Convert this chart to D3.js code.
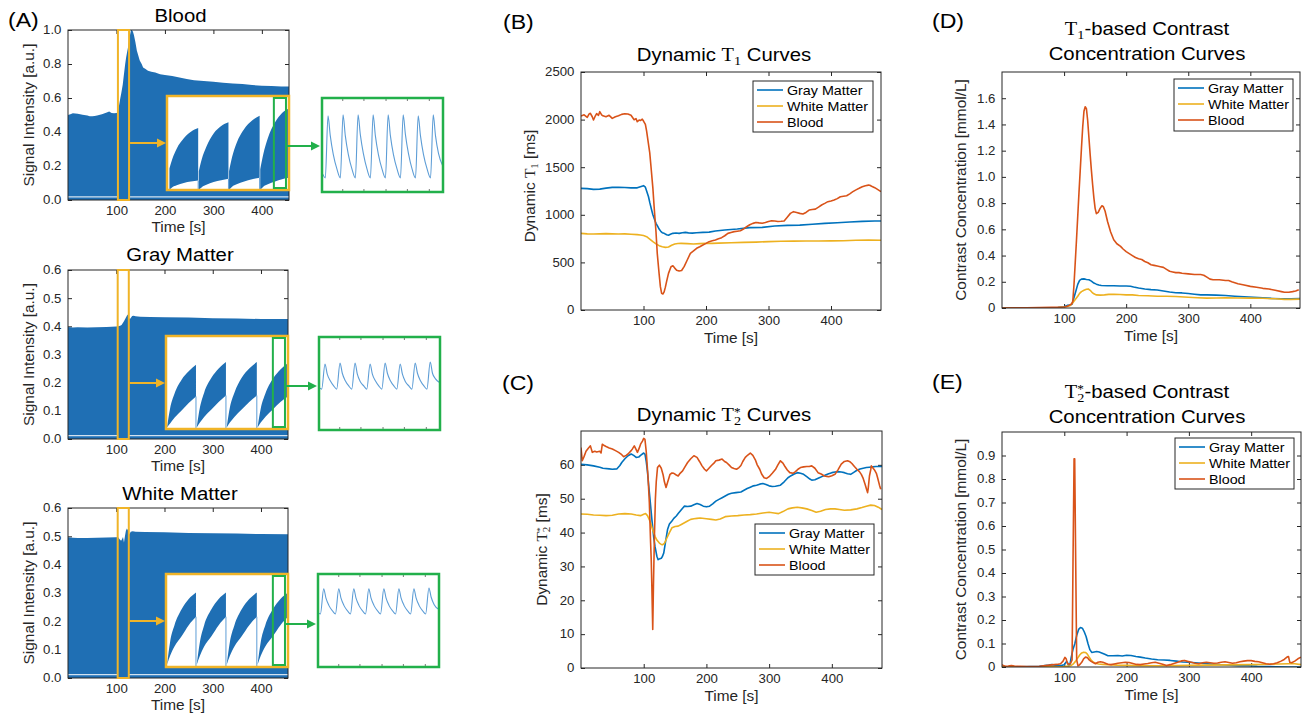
<!DOCTYPE html>
<html>
<head>
<meta charset="utf-8">
<script src="https://cdn.jsdelivr.net/npm/d3@7"></script>
<style>
html, body { margin: 0; padding: 0; background: #fff; }
svg { display: block; }
text { font-weight: 400; }
</style>
</head>
<body>
<svg id="fig" width="1306" height="716"></svg>
<script>
// ---------------- data ----------------
const timeTicks = [100, 200, 300, 400];
const rawTimeDomain = [0, 456];
const mapTimeDomain = [0, 480];
const zoomWindow = [103, 126];          // seconds shown in the first magnified view
const detailWindow = [3.53, 3.93];      // part of the magnified view shown again

const sigBloodTicks = [0, 0.2, 0.4, 0.6, 0.8, 1.0];
const sigTissueTicks = [0, 0.1, 0.2, 0.3, 0.4, 0.5, 0.6];
const t1Ticks = [0, 500, 1000, 1500, 2000, 2500];
const t2Ticks = [0, 10, 20, 30, 40, 50, 60];
const concT1Ticks = [0, 0.2, 0.4, 0.6, 0.8, 1.0, 1.2, 1.4, 1.6];
const concT2Ticks = [0, 0.1, 0.2, 0.3, 0.4, 0.5, 0.6, 0.7, 0.8, 0.9];

const seriesNames = ["Gray Matter", "White Matter", "Blood"];

// upper envelope of the raw signal [time, a.u.]
const bloodEnvelope = [[0,0.5],[5,0.505],[10,0.51],[20,0.508],[30,0.502],[40,0.497],[45,0.493],[50,0.492],[55,0.494],[60,0.497],[70,0.505],[80,0.515],[85,0.52],[90,0.512],[95,0.51],[100,0.512],[103,0.515],[105,0.55],[108,0.6],[110,0.63],[113,0.68],[115,0.73],[118,0.8],[120,0.84],[122,0.87],[124,0.9],[126,0.94],[128,0.97],[130,1.0],[132,1.0],[134,0.99],[136,0.97],[139,0.93],[142,0.88],[145,0.85],[148,0.82],[152,0.8],[155,0.78],[160,0.77],[165,0.76],[172,0.755],[180,0.75],[190,0.74],[200,0.735],[215,0.73],[230,0.72],[245,0.712],[260,0.705],[280,0.7],[300,0.695],[320,0.69],[340,0.686],[360,0.682],[380,0.676],[400,0.672],[420,0.67],[440,0.668],[456,0.667]];
const grayEnvelope = [[0,0.398],[10,0.396],[20,0.397],[40,0.396],[60,0.397],[80,0.398],[100,0.399],[104,0.4],[108,0.402],[111,0.405],[113,0.41],[116,0.418],[119,0.428],[122,0.438],[124,0.442],[126,0.432],[128,0.425],[130,0.43],[133,0.437],[136,0.438],[140,0.436],[150,0.434],[170,0.433],[200,0.432],[250,0.431],[300,0.429],[350,0.428],[400,0.426],[456,0.426]];
const whiteEnvelope = [[0,0.497],[10,0.495],[20,0.494],[40,0.494],[60,0.495],[80,0.496],[100,0.497],[104,0.497],[107,0.49],[110,0.484],[112,0.49],[114,0.498],[116,0.478],[118,0.5],[120,0.52],[122,0.528],[124,0.522],[126,0.505],[128,0.51],[130,0.516],[134,0.518],[140,0.516],[160,0.515],[200,0.514],[250,0.512],[300,0.511],[350,0.51],[400,0.508],[456,0.507]];
const bloodFloor = 0.018, grayFloor = 0.012, whiteFloor = 0.012;

// magnified readout: segments of [x, lower, upper] in readout units
const bloodReadout = [
  [[0.08,0,0.23],[0.175,0.03,0.33],[0.32,0.05,0.44],[0.555,0.075,0.55],[0.79,0.09,0.62],[1.03,0.1,0.66]],
  [[1.05,0,0.2],[1.15,0.03,0.33],[1.3,0.055,0.46],[1.54,0.085,0.6],[1.79,0.105,0.68],[2.03,0.12,0.72]],
  [[2.05,0,0.2],[2.15,0.035,0.35],[2.3,0.06,0.5],[2.55,0.09,0.65],[2.81,0.115,0.74],[3.06,0.13,0.79]],
  [[3.08,0,0.22],[3.18,0.035,0.38],[3.33,0.06,0.55],[3.57,0.09,0.72],[3.8,0.115,0.82],[4.03,0.13,0.87]]
];
const grayReadout = [
  [[0.04,0.02,0.03],[0.135,0.06,0.22],[0.28,0.12,0.38],[0.515,0.2,0.53],[0.75,0.28,0.62],[0.99,0.35,0.69]],
  [[1.02,0.02,0.03],[1.12,0.07,0.23],[1.26,0.13,0.39],[1.5,0.21,0.55],[1.74,0.29,0.65],[1.98,0.36,0.72]],
  [[2.01,0.02,0.03],[2.11,0.07,0.23],[2.26,0.13,0.39],[2.5,0.21,0.55],[2.75,0.29,0.65],[3.0,0.36,0.72]],
  [[3.03,0.02,0.03],[3.13,0.07,0.22],[3.28,0.13,0.38],[3.53,0.21,0.54],[3.78,0.29,0.64],[4.03,0.35,0.71]]
];
const whiteReadout = [
  [[0.04,0.03,0.04],[0.135,0.12,0.27],[0.28,0.22,0.45],[0.515,0.33,0.62],[0.75,0.45,0.73],[0.99,0.54,0.8]],
  [[1.02,0.03,0.04],[1.12,0.12,0.27],[1.26,0.22,0.45],[1.5,0.33,0.62],[1.74,0.45,0.73],[1.98,0.54,0.8]],
  [[2.01,0.03,0.04],[2.11,0.12,0.27],[2.26,0.22,0.45],[2.5,0.33,0.62],[2.75,0.45,0.73],[3.0,0.54,0.8]],
  [[3.03,0.03,0.04],[3.13,0.12,0.27],[3.28,0.22,0.45],[3.53,0.33,0.62],[3.78,0.45,0.73],[4.03,0.54,0.8]]
];

// individual samples inside the detail window [cycle, level]
const bloodDetail = [[0.05,0.19],[0.22,0.15],[0.40,0.81],[0.55,0.6],[0.75,0.4],[1.0,0.24],[1.22,0.15],[1.40,0.82],[1.55,0.6],[1.75,0.4],[2.0,0.24],[2.22,0.15],[2.40,0.82],[2.55,0.61],[2.75,0.41],[3.0,0.24],[3.22,0.15],[3.40,0.82],[3.55,0.6],[3.75,0.4],[4.0,0.24],[4.22,0.15],[4.40,0.82],[4.55,0.6],[4.75,0.4],[5.0,0.24],[5.22,0.15],[5.40,0.82],[5.55,0.61],[5.75,0.41],[6.0,0.24],[6.22,0.15],[6.40,0.81],[6.55,0.6],[6.75,0.4],[7.0,0.24],[7.22,0.15],[7.40,0.82],[7.55,0.6],[7.75,0.41],[8.05,0.27]];
const grayDetail = [[0.05,0.45],[0.18,0.44],[0.40,0.71],[0.55,0.6],[0.75,0.53],[1.0,0.47],[1.18,0.44],[1.40,0.72],[1.55,0.61],[1.75,0.53],[2.0,0.47],[2.18,0.44],[2.40,0.72],[2.55,0.6],[2.75,0.52],[3.0,0.47],[3.18,0.44],[3.40,0.71],[3.55,0.6],[3.75,0.53],[4.0,0.47],[4.18,0.44],[4.40,0.72],[4.55,0.61],[4.75,0.53],[5.0,0.47],[5.18,0.44],[5.40,0.71],[5.55,0.6],[5.75,0.52],[6.0,0.47],[6.18,0.44],[6.40,0.72],[6.55,0.61],[6.75,0.53],[7.0,0.47],[7.18,0.44],[7.40,0.73],[7.55,0.61],[7.75,0.55],[8.02,0.51]];
const whiteDetail = [[0.05,0.58],[0.16,0.57],[0.38,0.84],[0.53,0.74],[0.73,0.66],[0.98,0.6],[1.16,0.57],[1.38,0.84],[1.53,0.74],[1.73,0.66],[1.98,0.6],[2.16,0.57],[2.38,0.84],[2.53,0.74],[2.73,0.66],[2.98,0.6],[3.16,0.57],[3.38,0.84],[3.53,0.74],[3.73,0.66],[3.98,0.6],[4.16,0.57],[4.38,0.84],[4.53,0.74],[4.73,0.66],[4.98,0.6],[5.16,0.57],[5.38,0.84],[5.53,0.74],[5.73,0.66],[5.98,0.6],[6.16,0.57],[6.38,0.84],[6.53,0.74],[6.73,0.66],[6.98,0.6],[7.16,0.57],[7.38,0.85],[7.53,0.75],[7.73,0.67],[8.03,0.62]];
const detailTicks = [1.38, 2.79, 4.26, 5.68, 7.14];

// dynamic T1 [ms]
const t1Gray = [[0,1278],[10,1275],[20,1267],[30,1270],[40,1280],[50,1288],[60,1290],[70,1287],[80,1283],[90,1283],[95,1295],[100,1306],[103,1290],[105,1250],[108,1190],[110,1130],[113,1050],[115,1000],[118,945],[120,910],[123,875],[125,850],[128,823],[130,812],[133,805],[137,790],[140,785],[143,795],[147,805],[152,808],[157,805],[162,812],[167,815],[172,810],[178,808],[185,812],[195,815],[205,818],[215,830],[230,840],[250,851],[270,865],[290,868],[310,882],[330,889],[350,892],[370,900],[390,910],[410,917],[430,924],[450,931],[470,935],[480,935]];
const t1White = [[0,805],[10,800],[20,798],[30,800],[40,802],[50,800],[60,798],[70,800],[80,796],[90,792],[95,788],[100,782],[105,770],[110,745],[115,718],[120,695],[125,676],[130,665],[135,658],[140,662],[145,680],[150,693],[155,698],[160,700],[170,697],[180,694],[190,697],[200,700],[210,700],[220,702],[240,707],[260,710],[280,713],[300,718],[320,722],[340,723],[360,725],[380,724],[400,726],[420,728],[440,732],[460,735],[480,733]];
const t1Blood = [[0,2038],[5,2050],[10,2024],[13,2060],[15,2066],[18,2030],[20,1996],[23,2040],[25,2062],[28,2045],[30,2083],[33,2050],[35,2040],[40,2030],[45,2045],[50,2013],[55,2030],[60,2040],[65,2055],[70,2062],[75,2058],[80,2045],[85,1998],[88,2010],[90,1978],[93,1995],[95,1990],[98,2005],[100,1985],[103,1950],[105,1880],[107,1786],[110,1650],[112,1505],[115,1280],[117,1085],[120,820],[122,595],[125,380],[127,245],[129,175],[131,168],[133,190],[135,240],[137,300],[140,385],[144,455],[147,465],[150,440],[153,418],[157,410],[161,415],[165,455],[170,525],[175,595],[180,620],[185,648],[190,665],[195,683],[200,700],[205,718],[210,728],[215,735],[220,748],[225,760],[230,780],[235,805],[240,815],[245,823],[250,828],[255,833],[260,850],[265,875],[270,895],[275,910],[280,920],[285,915],[290,912],[295,920],[300,930],[305,938],[310,935],[315,930],[320,932],[325,935],[330,975],[335,1015],[340,1033],[345,1025],[350,1015],[355,1008],[360,1025],[365,1050],[370,1055],[375,1060],[380,1080],[385,1103],[390,1120],[395,1138],[400,1145],[405,1155],[410,1170],[415,1190],[420,1195],[425,1200],[430,1220],[435,1243],[440,1262],[445,1278],[450,1295],[455,1306],[460,1312],[462,1310],[465,1300],[470,1285],[475,1265],[480,1243]];

// dynamic T2* [ms]
const t2Gray = [[0,60.2],[10,60],[20,59.7],[30,59.3],[35,59],[45,58.8],[50,58.7],[57,58.8],[62,59.8],[65,60.7],[70,61.8],[75,62.7],[80,63.2],[84,62.8],[88,62.2],[92,62.3],[95,62.8],[100,63.5],[102,63.2],[104,61],[106,58],[108,53.8],[110,50],[113,43.9],[116,38.5],[118,35.9],[121,33],[123,32],[126,32.3],[128,32.4],[130,33],[132,34],[135,37.5],[138,40.9],[141,42.5],[145,43.4],[148,44.2],[152,44.9],[155,45.6],[158,46.3],[162,47.2],[165,47.8],[170,47.7],[175,47.8],[180,48.2],[185,48.6],[190,48.3],[195,47.8],[200,47.6],[205,47.8],[210,48.5],[215,49.3],[220,49.8],[225,50.3],[230,50.8],[235,51.3],[240,51.6],[247,51.8],[255,52],[260,52.5],[265,53],[270,53.4],[275,53.8],[280,54],[285,54.3],[290,54.5],[295,54.2],[300,53.8],[305,53.6],[310,53.7],[318,54],[324,55],[330,56.2],[335,56.8],[340,57.3],[345,57.7],[350,57.5],[355,57.2],[360,56.5],[365,55.8],[368,55.5],[373,55.6],[380,56.2],[385,56.6],[390,57],[395,57.4],[400,57.7],[405,57.9],[410,58],[415,57.9],[420,57.7],[425,57.4],[430,57.2],[435,57.8],[440,58.4],[445,58.8],[450,59],[455,59.2],[460,59.3],[465,59.4],[470,59.5],[475,59.5],[480,59.5]];
const t2White = [[0,45.5],[10,45.4],[20,45.2],[30,45.1],[40,45],[50,45.1],[60,45.5],[70,45.6],[80,45.5],[88,45.2],[95,45],[100,45.4],[103,45.6],[106,45],[110,43.4],[114,41],[118,38.9],[121,37.8],[125,36.9],[128,36.5],[130,36.4],[133,36.8],[137,38.4],[141,40],[145,41.4],[150,41.8],[155,41.9],[160,42.4],[165,42.9],[170,43.4],[175,43.9],[180,44.1],[185,44.2],[190,44.3],[200,44.1],[208,43.9],[215,43.7],[222,44],[230,44.7],[240,44.9],[250,45],[260,45.2],[270,45.3],[280,45.5],[290,45.8],[300,46],[308,45.8],[315,45.6],[322,46.2],[330,47],[337,47.3],[345,47.5],[352,47.3],[360,47],[368,46.5],[375,46],[382,46.3],[390,46.8],[398,47],[405,47],[412,46.8],[420,46.6],[430,46.7],[440,47],[448,47.4],[455,47.8],[462,48.1],[468,48],[474,47.5],[480,46.8]];
const t2Blood = [[0,65.1],[2,61.2],[5,62.5],[8,64],[12,65],[15,65.6],[18,63.7],[22,64],[25,63.8],[30,64],[32,63.5],[34,66.1],[37,65.7],[40,65.4],[45,65],[50,64.7],[55,64.2],[60,63.7],[65,63],[68,62.4],[72,62.8],[75,63.2],[80,64.2],[82,64.7],[85,65.6],[88,64.5],[90,63.7],[93,65],[95,66.1],[98,67],[100,67.8],[102,67.5],[104,64],[107,56],[109,48.8],[111,37],[112,32],[113,24],[114.4,11.4],[115.5,24],[117,38],[118.6,49.8],[120,55],[122,59.2],[125,59.9],[128,59],[131,57],[133,55],[135.6,53.3],[138,54.8],[142,57.2],[145,57.6],[148,57.5],[152,57],[155,56.7],[158,57.5],[162,58.2],[166,59.5],[170,60.7],[175,61.8],[180,62.7],[185,62.2],[189,61],[193,59.7],[197,58.7],[200,58.2],[204,59],[208,59.8],[212,60.5],[215,61.2],[220,61.4],[225,61.7],[229,61],[232,60.7],[236,60],[240,59.2],[244,58.9],[248,58.7],[252,59.2],[255,59.8],[258,61],[262,62.2],[266,62.9],[270,63.5],[274,62.8],[278,61.5],[281,60],[285,58.7],[288,57.3],[292,56.2],[296,56],[300,56.5],[305,57.5],[310,58.6],[314,60],[318,61.2],[322,60.5],[325,59.6],[329,58.5],[333,57.7],[338,57.5],[342,58],[346,58.7],[350,59.2],[355,59.4],[360,59.5],[364,59.5],[368,59.7],[373,59],[378,57.7],[383,57.3],[388,56.7],[392,56.6],[395,56.5],[400,56.8],[405,57.2],[410,58.6],[415,60.2],[420,61],[425,61.2],[429,60.9],[432,60.4],[436,59.5],[440,58.7],[444,58],[447,57.2],[450,56],[453,54.3],[455,53],[457,51.8],[458,53],[460,56.7],[462,58.5],[463,59.7],[465,59.2],[468,58.5],[471,57.5],[473,56.2],[476,54],[478,52.8]];

// T1-based contrast concentration [mmol/L]
const cT1Gray = [[0,0],[50,0.001],[90,0.004],[100,0.01],[105,0.02],[110,0.022],[113,0.03],[116,0.08],[119,0.13],[122,0.18],[125,0.21],[128,0.22],[132,0.222],[136,0.218],[140,0.215],[144,0.205],[148,0.19],[152,0.182],[156,0.176],[160,0.172],[170,0.17],[180,0.17],[190,0.168],[200,0.168],[207,0.166],[212,0.16],[220,0.152],[230,0.145],[240,0.14],[250,0.137],[260,0.13],[270,0.122],[280,0.116],[290,0.115],[300,0.11],[310,0.105],[320,0.1],[330,0.1],[345,0.098],[360,0.095],[375,0.09],[390,0.086],[405,0.082],[420,0.077],[435,0.073],[450,0.07],[465,0.07],[480,0.072]];
const cT1White = [[0,0],[50,0.002],[90,0.004],[100,0.008],[105,0.012],[110,0.02],[114,0.04],[118,0.065],[122,0.09],[125,0.112],[128,0.125],[132,0.135],[136,0.143],[139,0.145],[142,0.135],[145,0.12],[148,0.108],[152,0.1],[158,0.098],[165,0.1],[172,0.104],[180,0.105],[190,0.103],[200,0.1],[210,0.1],[220,0.095],[235,0.093],[250,0.09],[265,0.09],[280,0.088],[300,0.082],[315,0.078],[330,0.075],[345,0.076],[360,0.077],[380,0.076],[400,0.075],[420,0.074],[440,0.07],[455,0.066],[465,0.066],[480,0.068]];
const cT1Blood = [[0,0],[20,0.002],[40,0.001],[60,0.003],[80,0.005],[95,0.006],[100,0.008],[105,0.013],[108,0.02],[112,0.03],[114,0.05],[116,0.18],[118,0.35],[120,0.52],[122,0.7],[124,0.88],[126,1.05],[128,1.22],[130,1.38],[132,1.5],[134,1.535],[136,1.52],[138,1.43],[140,1.3],[142,1.17],[144,1.05],[146,0.94],[148,0.84],[150,0.76],[152,0.72],[155,0.73],[158,0.76],[161,0.78],[163,0.775],[166,0.74],[170,0.66],[175,0.58],[180,0.52],[185,0.49],[191,0.47],[195,0.45],[200,0.43],[205,0.415],[210,0.4],[215,0.385],[220,0.375],[225,0.37],[230,0.355],[235,0.345],[240,0.33],[245,0.325],[250,0.32],[255,0.315],[260,0.31],[265,0.295],[270,0.28],[275,0.275],[280,0.27],[285,0.27],[290,0.265],[300,0.26],[310,0.255],[320,0.255],[325,0.25],[330,0.235],[335,0.22],[340,0.215],[350,0.215],[360,0.21],[365,0.21],[370,0.2],[380,0.185],[390,0.175],[400,0.165],[410,0.158],[420,0.15],[430,0.145],[440,0.135],[450,0.125],[455,0.12],[462,0.12],[468,0.125],[473,0.13],[478,0.14]];

// T2*-based contrast concentration [mmol/L]
const cT2Gray = [[0,0],[30,0.001],[60,0.003],[75,0.008],[80,0.01],[88,0.007],[95,0.006],[100,0.01],[103,0.022],[105,0.02],[107,0.005],[109,0.01],[111,0.04],[114,0.075],[117,0.1],[120,0.135],[123,0.16],[126,0.168],[129,0.165],[132,0.15],[135,0.13],[138,0.1],[141,0.074],[144,0.062],[148,0.064],[152,0.066],[156,0.064],[160,0.06],[165,0.054],[170,0.048],[178,0.048],[186,0.049],[193,0.047],[200,0.05],[207,0.049],[215,0.045],[222,0.042],[230,0.038],[240,0.034],[250,0.031],[260,0.03],[270,0.028],[280,0.025],[290,0.021],[300,0.02],[310,0.018],[320,0.016],[330,0.014],[340,0.012],[350,0.01],[365,0.008],[380,0.006],[395,0.005],[410,0.003],[425,0.002],[440,0.001],[460,0],[480,0]];
const cT2White = [[0,0.001],[50,0.001],[100,0.002],[110,0.005],[114,0.012],[118,0.024],[122,0.04],[125,0.052],[128,0.06],[131,0.063],[134,0.062],[137,0.055],[140,0.042],[143,0.03],[146,0.022],[150,0.016],[155,0.013],[162,0.011],[170,0.01],[185,0.008],[200,0.007],[220,0.006],[250,0.005],[280,0.006],[300,0.007],[330,0.008],[360,0.009],[400,0.01],[430,0.012],[460,0.014],[470,0.014],[480,0.01]];
const cT2Blood = [[0,0.01],[3,0.005],[6,0.003],[10,0.004],[15,0.006],[20,0.004],[25,0.003],[30,0.003],[40,0.002],[50,0.002],[60,0.003],[70,0.006],[80,0.009],[88,0.011],[94,0.014],[98,0.025],[101,0.041],[103,0.035],[105,0.015],[107,0.012],[110,0.015],[112.5,0.03],[114,0.45],[115.7,0.886],[116.7,0.886],[118.3,0.45],[119.9,0.03],[122,0.005],[124,0.008],[126,0.014],[128,0.02],[131,0.035],[134,0.042],[137,0.04],[140,0.03],[143,0.024],[147,0.018],[150,0.014],[154,0.02],[158,0.022],[162,0.02],[166,0.016],[170,0.012],[175,0.01],[180,0.013],[186,0.016],[192,0.018],[198,0.02],[204,0.019],[210,0.015],[216,0.011],[222,0.01],[228,0.013],[234,0.015],[240,0.018],[246,0.02],[252,0.016],[258,0.012],[264,0.006],[270,0.01],[276,0.015],[282,0.02],[288,0.026],[293,0.028],[298,0.024],[304,0.02],[310,0.016],[316,0.014],[322,0.018],[328,0.02],[334,0.018],[340,0.016],[346,0.017],[352,0.02],[358,0.022],[364,0.019],[370,0.016],[376,0.018],[382,0.022],[388,0.025],[394,0.027],[400,0.027],[406,0.024],[412,0.022],[418,0.018],[424,0.014],[430,0.012],[436,0.014],[442,0.018],[448,0.025],[453,0.032],[458,0.043],[460,0.044],[462,0.02],[465,0.018],[470,0.025],[475,0.035],[480,0.042]];

// ---------------- style ----------------
const SANS = "'Liberation Sans', Arial, Helvetica, sans-serif";
const SERIF = "'Liberation Serif', 'DejaVu Serif', serif";
const SX = 1.1;                 // horizontal stretch of the lettering
const AX = "#262626";
const COL = { gray: "#0072BD", white: "#EDB120", blood: "#D95319" };
const FILL = "#1f6fb4";
const THIN = "#5d9dd6";
const YEL = "#F0B428";
const GRN = "#22B04B";

const svg = d3.select("#fig");
svg.append("rect").attr("width", 1306).attr("height", 716).attr("fill", "#fff");
const defs = svg.append("defs");

// ---------------- layout ----------------
const P = {
  aBlood: { l: 68, r: 289, t: 30, b: 200 },
  aGray:  { l: 68, r: 288, t: 270, b: 439 },
  aWhite: { l: 68, r: 288, t: 508, b: 678 },
  b: { l: 581, r: 881, t: 72, b: 310 },
  c: { l: 581, r: 882, t: 431, b: 668 },
  d: { l: 1002, r: 1300, t: 72, b: 308 },
  e: { l: 1002, r: 1301, t: 432, b: 667 }
};

// ---------------- helpers ----------------
let clipId = 0;
function clipFor(x, y, w, h) {
  const id = "clip" + (clipId++);
  defs.append("clipPath").attr("id", id).append("rect")
    .attr("x", x).attr("y", y).attr("width", w).attr("height", h);
  return "url(#" + id + ")";
}

function styleAxis(a) {
  a.select(".domain").remove();
  a.attr("font-family", SANS).attr("font-size", 12);
  a.selectAll("line").attr("stroke", AX);
  a.selectAll("text").attr("fill", AX).attr("transform", `scale(${SX},1)`);
}

function drawTicks(p, x, y, xt, yt, fmt) {
  const g = svg.append("g");
  g.append("g").attr("transform", `translate(0,${p.b})`)
    .call(d3.axisBottom(x).tickValues(xt).tickSizeInner(-4).tickSizeOuter(0).tickPadding(6)).call(styleAxis);
  g.append("g").attr("transform", `translate(0,${p.t})`)
    .call(d3.axisTop(x).tickValues(xt).tickSizeInner(-4).tickSizeOuter(0).tickFormat("")).call(styleAxis);
  g.append("g").attr("transform", `translate(${p.l},0)`)
    .call(d3.axisLeft(y).tickValues(yt).tickFormat(fmt).tickSizeInner(-4).tickSizeOuter(0).tickPadding(6)).call(styleAxis);
  g.append("g").attr("transform", `translate(${p.r},0)`)
    .call(d3.axisRight(y).tickValues(yt).tickSizeInner(-4).tickSizeOuter(0).tickFormat("")).call(styleAxis);
}

function drawBox(p) {
  svg.append("rect").attr("x", p.l).attr("y", p.t).attr("width", p.r - p.l).attr("height", p.b - p.t)
    .attr("fill", "none").attr("stroke", AX).attr("stroke-width", 1);
}

// text made of pieces: {s, serif, size, dx, dy}
function rich(x, y, pieces, size, opts = {}) {
  const rot = opts.rotate ? " rotate(-90)" : "";
  const t = svg.append("text")
    .attr("transform", `translate(${x},${y})${rot} scale(${SX},1)`)
    .attr("text-anchor", opts.anchor || "middle")
    .attr("font-family", SANS).attr("font-size", size).attr("font-weight", 400)
    .attr("fill", opts.fill || "#000");
  pieces.forEach(pc => {
    const s = t.append("tspan").text(pc.s);
    if (pc.serif) s.attr("font-family", SERIF);
    if (pc.size) s.attr("font-size", pc.size);
    if (pc.dx) s.attr("dx", pc.dx);
    if (pc.dy) s.attr("dy", pc.dy);
  });
  return t;
}

function legend(x, y, w, h) {
  const g = svg.append("g").attr("transform", `translate(${x},${y})`);
  g.append("rect").attr("width", w).attr("height", h).attr("fill", "#fff").attr("stroke", AX).attr("stroke-width", 1);
  const cols = [COL.gray, COL.white, COL.blood];
  seriesNames.forEach((name, i) => {
    const yy = 9 + i * 16;
    g.append("line").attr("x1", 4).attr("x2", 30).attr("y1", yy).attr("y2", yy)
      .attr("stroke", cols[i]).attr("stroke-width", 1.6);
    g.append("text").attr("transform", `translate(34,${yy}) scale(${SX},1)`).attr("dy", "0.35em")
      .attr("font-family", SANS).attr("font-size", 13).attr("fill", "#000").text(name);
  });
}

function arrow(x1, x2, y, color) {
  svg.append("line").attr("x1", x1).attr("x2", x2 - 7).attr("y1", y).attr("y2", y)
    .attr("stroke", color).attr("stroke-width", 2);
  svg.append("path").attr("d", `M${x2},${y} L${x2 - 9},${y - 4.5} L${x2 - 9},${y + 4.5} Z`).attr("fill", color);
}

// ---------------- panel A: raw signal with magnified views ----------------
const signalPanels = [
  { p: P.aBlood, title: "Blood", env: bloodEnvelope, floor: bloodFloor, ymax: 1.0, ticks: sigBloodTicks,
    readout: bloodReadout, detail: bloodDetail,
    mag: { x: 167, y: 96, w: 122, h: 94 }, det: { x: 322, y: 98, w: 121, h: 94 }, titleY: 22 },
  { p: P.aGray, title: "Gray Matter", env: grayEnvelope, floor: grayFloor, ymax: 0.6, ticks: sigTissueTicks,
    readout: grayReadout, detail: grayDetail,
    mag: { x: 166, y: 336, w: 122, h: 93 }, det: { x: 319, y: 337, w: 121, h: 93 }, titleY: 261 },
  { p: P.aWhite, title: "White Matter", env: whiteEnvelope, floor: whiteFloor, ymax: 0.6, ticks: sigTissueTicks,
    readout: whiteReadout, detail: whiteDetail,
    mag: { x: 166, y: 574, w: 122, h: 93 }, det: { x: 318, y: 574, w: 121, h: 93 }, titleY: 500 }
];

signalPanels.forEach(sp => {
  const p = sp.p;
  const x = d3.scaleLinear().domain(rawTimeDomain).range([p.l, p.r]);
  const y = d3.scaleLinear().domain([0, sp.ymax]).range([p.b, p.t]);
  drawTicks(p, x, y, timeTicks, sp.ticks, d3.format(".1f"));

  const clip = clipFor(p.l, p.t, p.r - p.l, p.b - p.t);
  const body = svg.append("g").attr("clip-path", clip);
  body.append("path").datum(sp.env)
    .attr("d", d3.area().x(d => x(d[0])).y0(y(0)).y1(d => y(d[1])))
    .attr("fill", FILL);
  body.append("line").attr("x1", x(rawTimeDomain[0])).attr("x2", x(zoomWindow[0]))
    .attr("y1", y(sp.floor)).attr("y2", y(sp.floor))
    .attr("stroke", "#fff").attr("stroke-width", 1.2).attr("stroke-opacity", 0.8);
  body.append("line").attr("x1", x(zoomWindow[1])).attr("x2", x(rawTimeDomain[1]))
    .attr("y1", y(sp.floor)).attr("y2", y(sp.floor))
    .attr("stroke", "#fff").attr("stroke-width", 1.2).attr("stroke-opacity", 0.8);
  drawBox(p);

  // marked time window
  svg.append("rect").attr("x", x(zoomWindow[0])).attr("y", y(sp.ymax))
    .attr("width", x(zoomWindow[1]) - x(zoomWindow[0])).attr("height", y(0) - y(sp.ymax))
    .attr("fill", "none").attr("stroke", YEL).attr("stroke-width", 2);

  // first magnified view
  const m = sp.mag;
  const mx = d3.scaleLinear().domain([0, 4.03]).range([m.x, m.x + m.w]);
  const my = d3.scaleLinear().domain([0, 1]).range([m.y + m.h, m.y]);
  svg.append("rect").attr("x", m.x).attr("y", m.y).attr("width", m.w).attr("height", m.h).attr("fill", "#fff");
  const mg = svg.append("g").attr("clip-path", clipFor(m.x, m.y, m.w, m.h));
  sp.readout.forEach(seg => {
    mg.append("path").datum(seg)
      .attr("d", d3.area().x(d => mx(d[0])).y0(d => my(d[1])).y1(d => my(d[2])).curve(d3.curveMonotoneX))
      .attr("fill", FILL);
    const last = seg[seg.length - 1];
    mg.append("line").attr("x1", mx(last[0])).attr("x2", mx(last[0]))
      .attr("y1", my(last[1])).attr("y2", my(0)).attr("stroke", THIN).attr("stroke-width", 1);
  });
  svg.append("rect").attr("x", m.x).attr("y", m.y).attr("width", m.w).attr("height", m.h)
    .attr("fill", "none").attr("stroke", YEL).attr("stroke-width", 2.5);
  svg.append("rect").attr("x", mx(detailWindow[0])).attr("y", m.y + 2)
    .attr("width", mx(detailWindow[1]) - mx(detailWindow[0])).attr("height", m.h - 4)
    .attr("fill", "none").attr("stroke", GRN).attr("stroke-width", 2);

  // detail view of individual samples
  const dt = sp.det;
  const dx = d3.scaleLinear().domain([0, 8.05]).range([dt.x, dt.x + dt.w]);
  const dy = d3.scaleLinear().domain([0, 1]).range([dt.y + dt.h, dt.y]);
  svg.append("rect").attr("x", dt.x).attr("y", dt.y).attr("width", dt.w).attr("height", dt.h).attr("fill", "#fff");
  detailTicks.forEach(v => {
    svg.append("line").attr("x1", dx(v)).attr("x2", dx(v)).attr("y1", dt.y + dt.h).attr("y2", dt.y + dt.h - 3)
      .attr("stroke", "#555").attr("stroke-width", 0.8);
    svg.append("line").attr("x1", dx(v)).attr("x2", dx(v)).attr("y1", dt.y).attr("y2", dt.y + 3)
      .attr("stroke", "#555").attr("stroke-width", 0.8);
  });
  svg.append("g").attr("clip-path", clipFor(dt.x, dt.y, dt.w, dt.h))
    .append("path").datum(sp.detail)
    .attr("d", d3.line().x(d => dx(d[0])).y(d => dy(d[1])).curve(d3.curveMonotoneX))
    .attr("fill", "none").attr("stroke", THIN).attr("stroke-width", 1.1);
  svg.append("rect").attr("x", dt.x).attr("y", dt.y).attr("width", dt.w).attr("height", dt.h)
    .attr("fill", "none").attr("stroke", GRN).attr("stroke-width", 2.5);

  arrow(x(zoomWindow[1]) + 1, m.x - 1, m.y + 47, YEL);
  arrow(mx(detailWindow[1]) + 1, dt.x - 2, m.y + 50, GRN);

  rich((p.l + p.r) / 2 + 2, sp.titleY, [{ s: sp.title }], 18.5);
  rich((p.l + p.r) / 2, p.b + 32, [{ s: "Time [s]" }], 14, { fill: AX });
  rich(34, (p.t + p.b) / 2, [{ s: "Signal Intensity [a.u.]" }], 14, { rotate: true, fill: AX });
});

// ---------------- panels B–E: curves ----------------
function curvePanel(p, ydom, yt, fmt, series) {
  const x = d3.scaleLinear().domain(mapTimeDomain).range([p.l, p.r]);
  const y = d3.scaleLinear().domain(ydom).range([p.b, p.t]);
  drawTicks(p, x, y, timeTicks, yt, fmt);
  const g = svg.append("g").attr("clip-path", clipFor(p.l, p.t, p.r - p.l, p.b - p.t));
  const line = d3.line().x(d => x(d[0])).y(d => y(d[1]));
  series.forEach(s => {
    g.append("path").datum(s.data).attr("d", line)
      .attr("fill", "none").attr("stroke", s.color).attr("stroke-width", 1.6).attr("stroke-linejoin", "round");
  });
  drawBox(p);
  rich((p.l + p.r) / 2, p.b + 33, [{ s: "Time [s]" }], 14, { fill: AX });
}

const fmtInt = d3.format("d");
const fmtConc = d => d === 0 ? "0" : d3.format(".1f")(d);

curvePanel(P.b, [0, 2500], t1Ticks, fmtInt,
  [{ data: t1Gray, color: COL.gray }, { data: t1White, color: COL.white }, { data: t1Blood, color: COL.blood }]);
curvePanel(P.c, [0, 70], t2Ticks, fmtInt,
  [{ data: t2Gray, color: COL.gray }, { data: t2White, color: COL.white }, { data: t2Blood, color: COL.blood }]);
curvePanel(P.d, [0, 1.8], concT1Ticks, fmtConc,
  [{ data: cT1Gray, color: COL.gray }, { data: cT1White, color: COL.white }, { data: cT1Blood, color: COL.blood }]);
curvePanel(P.e, [0, 1.0], concT2Ticks, fmtConc,
  [{ data: cT2Gray, color: COL.gray }, { data: cT2White, color: COL.white }, { data: cT2Blood, color: COL.blood }]);

legend(753, 81, 120, 51);
legend(755, 524, 119, 51);
legend(1174, 79, 119, 52);
legend(1175, 438, 119, 51);

// titles
rich(724, 61, [{ s: "Dynamic " }, { s: "T", serif: 1 }, { s: "1", serif: 1, size: 13, dy: 4 }, { s: " Curves", dy: -4 }], 18.5);
rich(724, 421, [{ s: "Dynamic " }, { s: "T", serif: 1 }, { s: "*", serif: 1, size: 12, dy: -5 }, { s: "2", serif: 1, size: 13, dx: -6, dy: 9 }, { s: " Curves", dy: -4 }], 18.5);
rich(1147, 35, [{ s: "T", serif: 1 }, { s: "1", serif: 1, size: 13, dy: 4 }, { s: "-based Contrast", dy: -4 }], 18.5);
rich(1147, 60, [{ s: "Concentration Curves" }], 18.5);
rich(1147, 398, [{ s: "T", serif: 1 }, { s: "*", serif: 1, size: 12, dy: -5 }, { s: "2", serif: 1, size: 13, dx: -6, dy: 9 }, { s: "-based Contrast", dy: -4 }], 18.5);
rich(1147, 423, [{ s: "Concentration Curves" }], 18.5);

// y-axis labels
rich(535, 186, [{ s: "Dynamic " }, { s: "T", serif: 1 }, { s: "1", serif: 1, size: 10, dy: 3 }, { s: " [ms]", dy: -3 }], 14, { rotate: true, fill: AX });
rich(547, (P.c.t + P.c.b) / 2, [{ s: "Dynamic " }, { s: "T", serif: 1 }, { s: "*", serif: 1, size: 9, dy: -4 }, { s: "2", serif: 1, size: 10, dx: -4.5, dy: 7 }, { s: " [ms]", dy: -3 }], 14, { rotate: true, fill: AX });
rich(966, (P.d.t + P.d.b) / 2, [{ s: "Contrast Concentration [mmol/L]" }], 14, { rotate: true, fill: AX });
rich(966, (P.e.t + P.e.b) / 2, [{ s: "Contrast Concentration [mmol/L]" }], 14, { rotate: true, fill: AX });

// panel letters
rich(8, 27, [{ s: "(A)" }], 21, { anchor: "start" });
rich(503, 29, [{ s: "(B)" }], 21, { anchor: "start" });
rich(502, 390, [{ s: "(C)" }], 21, { anchor: "start" });
rich(932, 28, [{ s: "(D)" }], 21, { anchor: "start" });
rich(932, 389, [{ s: "(E)" }], 21, { anchor: "start" });
</script>
</body>
</html>
